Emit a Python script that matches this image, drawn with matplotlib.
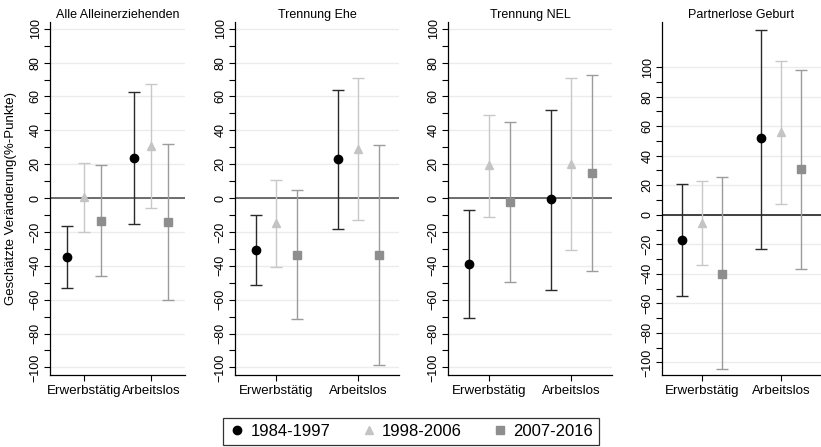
import matplotlib.pyplot as plt
import numpy as np

plt.rcParams['font.family'] = ['Liberation Sans', 'DejaVu Sans']

panels = ["Alle Alleinerziehenden", "Trennung Ehe", "Trennung NEL", "Partnerlose Geburt"]
categories = ["Erwerbstätig", "Arbeitslos"]
periods = ["1984-1997", "1998-2006", "2007-2016"]

# point estimates and confidence bounds, per panel: [Erwerbstätig, Arbeitslos]
est_8497 = [[-34.7, 23.7], [-30.5, 22.8], [-39.2, -0.8], [-17.4, 51.7]]
lo_8497 = [[-52.9, -15.6], [-51.2, -18.1], [-71.1, -54.3], [-54.8, -22.9]]
hi_8497 = [[-16.4, 62.9], [-10.2, 63.8], [-7.3, 52.0], [20.9, 124.9]]

est_9806 = [[0.8, 31.0], [-14.8, 29.0], [19.3, 20.3], [-5.4, 56.0]]
lo_9806 = [[-20.3, -5.7], [-40.7, -12.8], [-11.0, -30.7], [-33.7, 7.4]]
hi_9806 = [[20.9, 67.5], [10.6, 70.9], [48.8, 71.1], [22.9, 103.8]]

est_0716 = [[-13.6, -14.4], [-33.5, -33.5], [-2.4, 15.0], [-40.0, 31.2]]
lo_0716 = [[-46.2, -60.4], [-71.3, -98.4], [-49.8, -43.1], [-104.5, -36.4]]
hi_0716 = [[19.3, 31.8], [4.7, 31.3], [44.7, 72.6], [25.4, 98.0]]

series = [(est_8497, lo_8497, hi_8497), (est_9806, lo_9806, hi_9806), (est_0716, lo_0716, hi_0716)]
markers = ['o', '^', 's']
mcolors = ['#000000', '#c4c4c4', '#8e8e8e']
ecolors = ['#2a2a2a', '#c8c8c8', '#9c9c9c']
offsets = [-0.25, 0.0, 0.25]

W, H = 821, 447
fig = plt.figure(figsize=(W / 100, H / 100), dpi=100)

# axes boxes in pixels: left, right, top, bottom
boxes = [(50, 185, 22, 375), (235, 399, 22, 375), (448, 612, 22, 375), (662, 821, 22, 375)]
ylims = [(-104.5, 104), (-104.5, 104), (-104.5, 104), (-108.5, 130.5)]
zero_colors = ['#555555', '#555555', '#555555', '#222222']

x = np.array([1, 2])
handles = []
for i, name in enumerate(panels):
    l, r, t, b = boxes[i]
    ax = fig.add_axes([l / W, 1 - b / H, (r - l) / W, (b - t) / H])
    for s, (est, lo, hi) in enumerate(series):
        e = np.array(est[i])
        yerr = [e - np.array(lo[i]), np.array(hi[i]) - e]
        ax.errorbar(x + offsets[s], e, yerr=yerr, fmt='none', ecolor=ecolors[s],
                    elinewidth=1.0, capsize=4.2, capthick=1.0, zorder=2)
        h, = ax.plot(x + offsets[s], e, markers[s], color=mcolors[s], markersize=6,
                     linestyle='none', zorder=3, label=periods[s])
        if i == 0:
            handles.append(h)
    ax.axhline(0, color=zero_colors[i], linewidth=1.2, zorder=1)
    ax.set_xlim(0.5, 2.5)
    ax.set_ylim(*ylims[i])
    ax.set_yticks(np.arange(-100, 101, 20))
    ax.set_yticks(np.arange(-90, 100, 20), minor=True)
    ax.tick_params(axis='y', which='major', labelsize=9, labelrotation=90, length=4, width=0.8, pad=2)
    ax.tick_params(axis='y', which='minor', length=4, width=0.8)
    for lab in ax.get_yticklabels():
        lab.set_va('center')
    ax.set_xticks(x)
    ax.set_xticklabels(categories)
    ax.tick_params(axis='x', labelsize=9.6, length=4, width=0.8, pad=3)
    ax.grid(axis='y', which='major', color='#ececec', linewidth=1.0, zorder=0)
    ax.set_axisbelow(True)
    ax.spines['top'].set_visible(False)
    ax.spines['right'].set_visible(False)
    ax.spines['left'].set_linewidth(0.9)
    ax.spines['bottom'].set_linewidth(0.9)
    ax.set_title(name, fontsize=9, pad=3)
    if i == 0:
        ax.set_ylabel("Geschätzte Veränderung(%-Punkte)", fontsize=9.5)
        ax.yaxis.set_label_coords(-0.245, 0.5)

leg = fig.legend(handles=handles, loc='upper center', bbox_to_anchor=(411 / W, 1 - 418 / H),
                 ncol=3, fontsize=12, frameon=True, fancybox=False, edgecolor='black',
                 handletextpad=0.3, columnspacing=1.8, handlelength=1.0, borderpad=0.35,
                 borderaxespad=0)
leg.get_frame().set_linewidth(0.9)

fig.savefig('out.png', dpi=100)
